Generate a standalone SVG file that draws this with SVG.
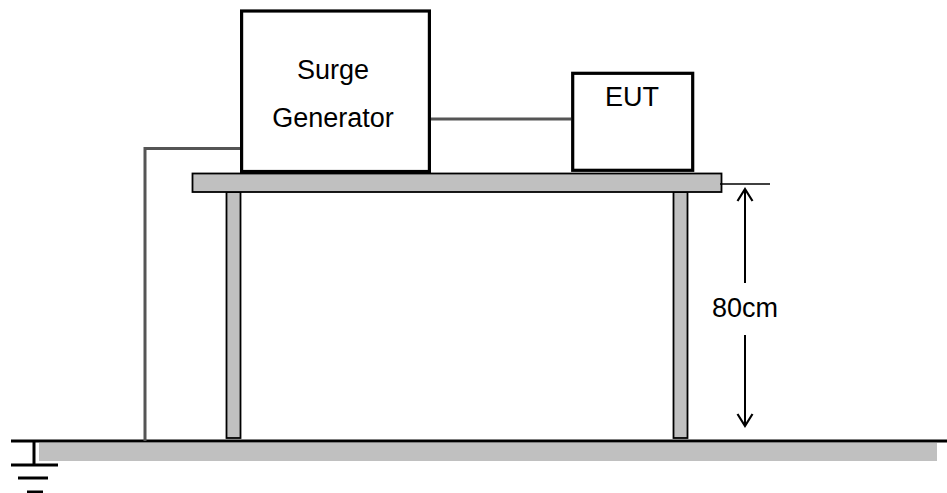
<svg xmlns="http://www.w3.org/2000/svg" width="947" height="493" viewBox="0 0 947 493">
<style>
.box{fill:#fff;stroke:#000;stroke-width:3.2}
.gray{fill:#c0c0c0;stroke:#000;stroke-width:1.8}
.wire{fill:none;stroke:#555;stroke-width:3}
.blk{fill:none;stroke:#000}
text{font-family:"Liberation Sans",Arial,sans-serif;font-size:27px;fill:#000;text-anchor:middle}
</style>
<rect width="947" height="493" fill="#fff"/>
<g id="floor">
<rect x="39" y="443" width="898" height="18" fill="#c0c0c0"/>
<line class="blk" x1="11" y1="441" x2="947" y2="441" stroke-width="3"/>
</g>
<g id="ground">
<line class="blk" x1="34" y1="441" x2="34" y2="465" stroke-width="3"/>
<line class="blk" x1="11" y1="465" x2="58" y2="465" stroke-width="3"/>
<line class="blk" x1="18" y1="478" x2="48" y2="478" stroke-width="3"/>
<line class="blk" x1="27" y1="492" x2="43" y2="492" stroke-width="3"/>
</g>
<g id="connectors">
<polyline class="wire" points="145,441 145,148.5 240,148.5"/>
<line class="wire" x1="430" y1="119" x2="571" y2="119"/>
</g>
<g id="table">
<rect class="gray" x="226.5" y="192" width="14" height="246"/>
<rect class="gray" x="673.5" y="192" width="14" height="246"/>
<rect class="gray" x="192.5" y="173.5" width="529" height="18.5"/>
</g>
<g id="surge-generator">
<rect class="box" x="241.6" y="11" width="187.8" height="160.5"/>
<text x="333" y="79">Surge</text>
<text x="333" y="126.5">Generator</text>
</g>
<g id="eut">
<rect class="box" x="572.7" y="73.3" width="120" height="97"/>
<text x="632" y="106">EUT</text>
</g>
<g id="dimension">
<line class="blk" x1="720" y1="184" x2="770" y2="184" stroke-width="1.6"/>
<line class="blk" x1="745" y1="189" x2="745" y2="283" stroke-width="2"/>
<line class="blk" x1="745" y1="335" x2="745" y2="426" stroke-width="2"/>
<polyline class="blk" points="737.5,201 745,189 752.5,201" stroke-width="2.2"/>
<polyline class="blk" points="737.5,414 745,426 752.5,414" stroke-width="2.2"/>
<text x="745" y="317">80cm</text>
</g>
</svg>
